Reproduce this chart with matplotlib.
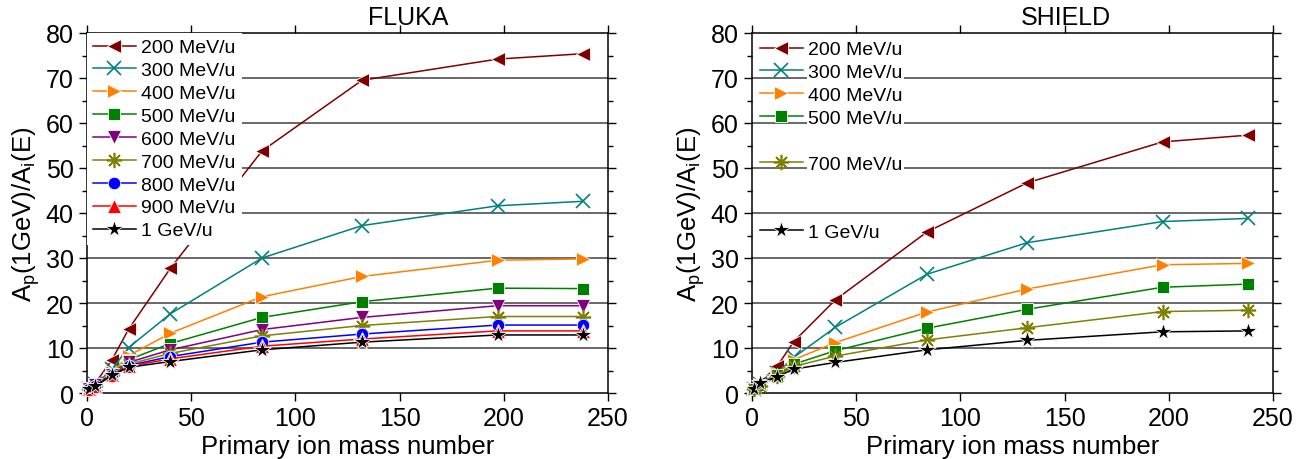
import matplotlib
matplotlib.use("Agg")
import matplotlib.pyplot as plt
from matplotlib.lines import Line2D
from matplotlib.ticker import MultipleLocator

plt.rcParams['font.family'] = ['Liberation Sans', 'DejaVu Sans']

# primary ion mass numbers
mass = [1, 4, 12, 20, 40, 84, 132, 197, 238]

# FLUKA ratios
f200 = [1.0, 2.2, 7.4, 14.2, 27.7, 53.8, 69.5, 74.2, 75.4]
f300 = [1.0, 1.9, 5.3, 10.1, 17.6, 30.0, 37.2, 41.6, 42.6]
f400 = [1.0, 1.8, 4.6, 8.3, 13.3, 21.4, 25.9, 29.5, 29.8]
f500 = [1.0, 1.7, 4.3, 7.4, 11.0, 16.8, 20.3, 23.3, 23.2]
f600 = [1.0, 1.7, 4.1, 6.8, 9.6, 14.1, 16.8, 19.4, 19.4]
f700 = [1.0, 1.6, 4.0, 6.4, 8.8, 12.7, 15.0, 17.0, 17.0]
f800 = [1.0, 1.6, 3.9, 6.1, 8.1, 11.3, 13.1, 15.1, 15.1]
f900 = [1.0, 1.6, 3.9, 5.9, 7.6, 10.4, 12.0, 13.8, 13.8]
f1000 = [1.0, 1.6, 4.0, 5.7, 7.0, 9.6, 11.3, 12.9, 12.9]

# SHIELD ratios (no 600, 800, 900 MeV/u)
s200 = [1.0, 2.4, 5.9, 11.4, 20.7, 35.8, 46.7, 55.8, 57.3]
s300 = [1.0, 2.0, 4.4, 7.9, 14.6, 26.4, 33.4, 38.1, 38.8]
s400 = [1.0, 1.8, 4.2, 7.4, 11.2, 18.0, 23.1, 28.5, 28.8]
s500 = [1.0, 1.7, 4.0, 6.4, 9.4, 14.4, 18.6, 23.5, 24.2]
s700 = [1.0, 1.6, 3.8, 5.9, 8.2, 11.8, 14.5, 18.1, 18.4]
s1000 = [1.0, 2.2, 3.6, 5.3, 6.8, 9.6, 11.7, 13.6, 13.8]

labels = ['200 MeV/u', '300 MeV/u', '400 MeV/u', '500 MeV/u', '600 MeV/u',
          '700 MeV/u', '800 MeV/u', '900 MeV/u', '1 GeV/u']
colors = ['#800000', '#008080', '#ff8000', '#008000', '#800080',
          '#808000', '#0000ff', '#ff0000', 'black']
markers = ['<', 'x', '>', 's', 'v', (8, 2, 0), 'o', '^', '*']
msizes = [10, 10, 10, 8, 10, 11, 9, 10, 13]

fluka = [f200, f300, f400, f500, f600, f700, f800, f900, f1000]
shield = [s200, s300, s400, s500, None, s700, None, None, s1000]

fig = plt.figure(figsize=(13.06, 4.6), dpi=100)
ax1 = fig.add_axes([87/1306, 1-394/460, 521/1306, 360/460])
ax2 = fig.add_axes([752/1306, 1-394/460, 521/1306, 360/460])


def style(ax, title, tx):
    ax.set_xlim(0, 250)
    ax.set_ylim(0, 80)
    ax.xaxis.set_major_locator(MultipleLocator(50))
    ax.yaxis.set_major_locator(MultipleLocator(10))
    ax.yaxis.set_minor_locator(MultipleLocator(5))
    ax.tick_params(which='both', direction='out', top=True, right=True,
                   width=1.0, labelsize=18)
    ax.tick_params(which='major', length=6)
    ax.tick_params(which='minor', length=3.5)
    for s in ax.spines.values():
        s.set_linewidth(1.1)
    for yv in range(10, 80, 10):
        ax.axhline(yv, color='0.25', lw=1.1, zorder=0.5)
    ax.set_xlabel('Primary ion mass number', fontsize=18.5, labelpad=3)
    ax.set_ylabel(r'A$_\mathregular{p}$(1GeV)/A$_\mathregular{i}$(E)', fontsize=18.5, labelpad=3)
    ax.text(tx, 1.012, title, transform=ax.transAxes, ha='center', va='bottom', fontsize=18)


def plot_series(ax, data):
    handles = []
    for d, lab, c, m, ms in zip(data, labels, colors, markers, msizes):
        if d is None:
            handles.append(Line2D([], [], ls='none', marker='', label=' '))
            continue
        filled = m not in ('x', (8, 2, 0))
        ln, = ax.plot(mass, d, color=c, lw=1.1, marker=m, ms=ms,
                      mec=c if not filled else 'white',
                      mew=1.2 if not filled else 0.6,
                      label=lab, zorder=3, clip_on=False)
        handles.append(ln)
    return handles


h1 = plot_series(ax1, fluka)
style(ax1, 'FLUKA', 0.616)
leg1 = ax1.legend(handles=h1, loc='upper left', bbox_to_anchor=(0, 1), borderaxespad=0,
                  borderpad=0.3, labelspacing=0.27, handlelength=2.2, handletextpad=0.3,
                  fontsize=14, frameon=True, fancybox=False, framealpha=1,
                  facecolor='white', edgecolor='none')
leg1.set_zorder(4)

h2 = plot_series(ax2, shield)
style(ax2, 'SHIELD', 0.603)
leg2 = ax2.legend(handles=h2, loc='upper left', bbox_to_anchor=(0, 1), borderaxespad=0,
                  borderpad=0.4, labelspacing=0.27, handlelength=2.2, handletextpad=0.3,
                  fontsize=14, frameon=False)
for t in leg2.get_texts():
    if t.get_text().strip():
        t.set_bbox(dict(facecolor='white', edgecolor='none', pad=1))
leg2.set_zorder(4)

fig.savefig('out.png', dpi=100)
